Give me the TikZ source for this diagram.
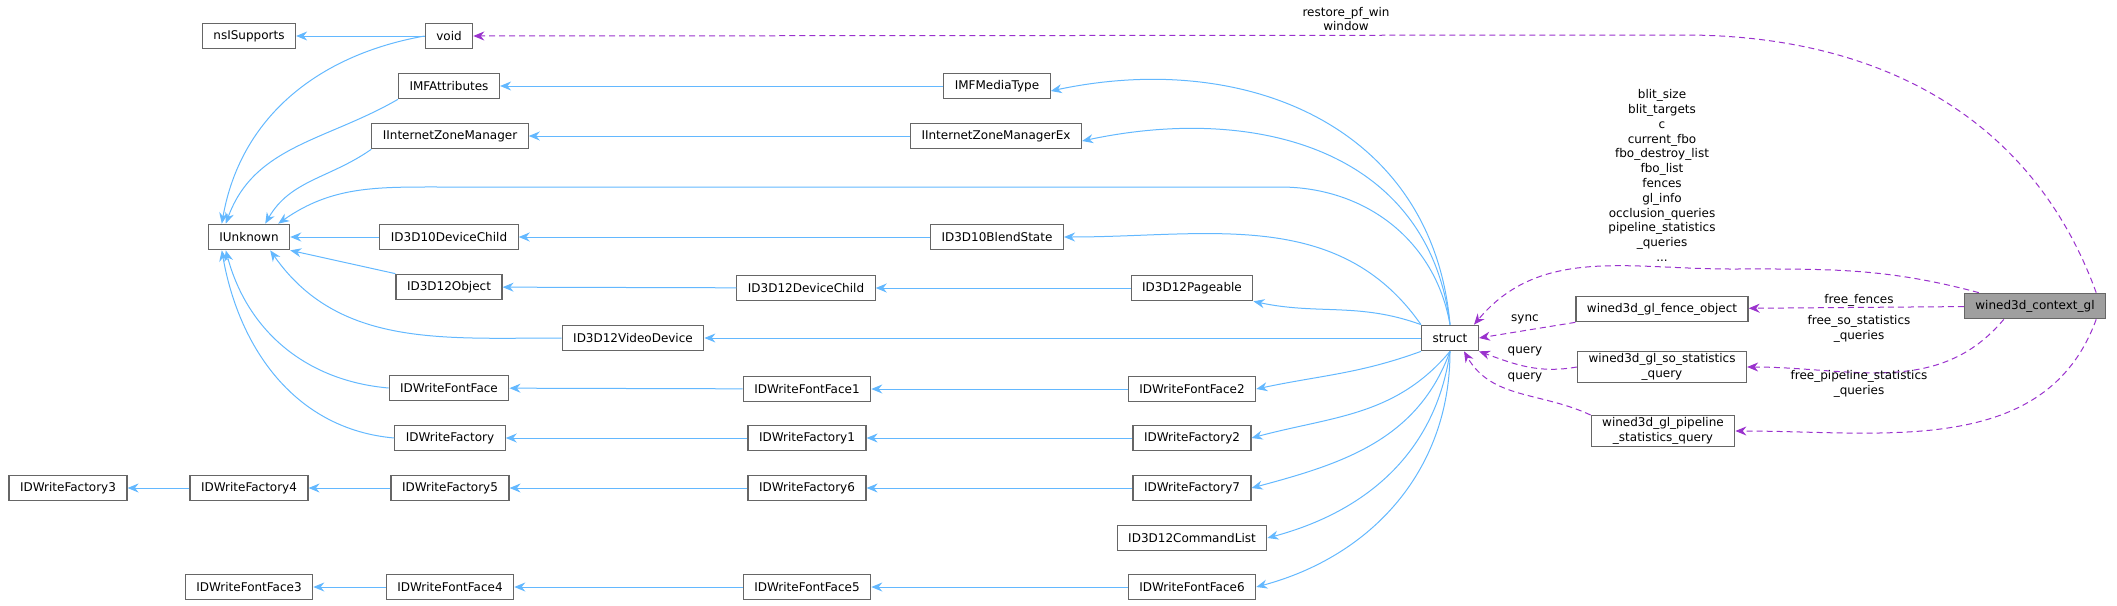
\documentclass[tikz,border=0pt]{standalone}
\usepackage{fontspec}
\setmainfont{DejaVu Sans}
\usetikzlibrary{arrows.meta}
\definecolor{edgeblue}{HTML}{63B8FF}
\definecolor{edgepurple}{HTML}{9A32CD}
\definecolor{boxgray}{HTML}{666666}
\tikzset{every picture/.style={line width=1pt}}
\tikzset{
  cls/.style={draw=boxgray,line width=1.2pt,fill=white,rectangle,minimum height=25.5,inner xsep=11,inner ysep=2,font=\fontsize{12}{14.8}\selectfont,align=center},
  inh/.style={draw=edgeblue,-{Stealth[length=11,width=9,open,fill=edgeblue]}},
  use/.style={draw=edgepurple,dashed,dash pattern=on 6 off 4,-{Stealth[length=11,width=9,fill=edgepurple]}},
  lbl/.style={font=\fontsize{12}{14.8}\selectfont,align=center,inner sep=1}
}
\begin{document}
\begin{tikzpicture}[x=1pt,y=-1pt]
	\useasboundingbox (0,0) rectangle (2117,605);
	
	% classes
	\node[cls] (nsISupports) at (249,36) {nsISupports};
	\node[cls] (void) at (449,36) {void};
	\node[cls] (IMFAttributes) at (449,86) {IMFAttributes};
	\node[cls] (IMFMediaType) at (997,86) {IMFMediaType};
	\node[cls] (IZoneMgr) at (450,136) {IInternetZoneManager};
	\node[cls] (IZoneMgrEx) at (996,136) {IInternetZoneManagerEx};
	\node[cls] (IUnknown) at (249,237) {IUnknown};
	\node[cls] (D3D10DevChild) at (449,237) {ID3D10DeviceChild};
	\node[cls] (D3D10Blend) at (997,237) {ID3D10BlendState};
	\node[cls] (D3D12Object) at (449,287) {ID3D12Object};
	\node[cls] (D3D12DevChild) at (806,288) {ID3D12DeviceChild};
	\node[cls] (D3D12Pageable) at (1192,288) {ID3D12Pageable};
	\node[cls] (D3D12Video) at (633,338) {ID3D12VideoDevice};
	\node[cls] (struct) at (1450,338) {struct};
	\node[cls] (FontFace) at (449,388) {IDWriteFontFace};
	\node[cls] (FontFace1) at (807,389) {IDWriteFontFace1};
	\node[cls] (FontFace2) at (1192,389) {IDWriteFontFace2};
	\node[cls] (Factory) at (450,438) {IDWriteFactory};
	\node[cls] (Factory1) at (807,438) {IDWriteFactory1};
	\node[cls] (Factory2) at (1192,438) {IDWriteFactory2};
	\node[cls] (Factory3) at (68,488) {IDWriteFactory3};
	\node[cls] (Factory4) at (249,488) {IDWriteFactory4};
	\node[cls] (Factory5) at (450,488) {IDWriteFactory5};
	\node[cls] (Factory6) at (807,488) {IDWriteFactory6};
	\node[cls] (Factory7) at (1192,488) {IDWriteFactory7};
	\node[cls] (CmdList) at (1192,538) {ID3D12CommandList};
	\node[cls] (FontFace3) at (249,587) {IDWriteFontFace3};
	\node[cls] (FontFace4) at (450,587) {IDWriteFontFace4};
	\node[cls] (FontFace5) at (807,587) {IDWriteFontFace5};
	\node[cls] (FontFace6) at (1192,587) {IDWriteFontFace6};
	\node[cls] (fence) at (1662,309) {wined3d\_gl\_fence\_object};
	\node[cls] (soquery) at (1662,367) {wined3d\_gl\_so\_statistics\\\_query};
	\node[cls] (plquery) at (1663,431) {wined3d\_gl\_pipeline\\\_statistics\_query};
	\node[cls,fill=gray!75] (context) at (2035,306) {wined3d\_context\_gl};
	
	% inheritance
	\draw[inh] (void) -- (nsISupports);
	\draw[inh] (void.west) to[out=190,in=80] ([xshift=14]IUnknown.north west);
	\draw[inh] (IMFAttributes.south west) to[out=210,in=70] ([xshift=18]IUnknown.north west);
	\draw[inh] (IZoneMgr.south west) to[out=215,in=60] ([xshift=-25]IUnknown.north east);
	\draw[inh] (struct.north) to[out=100,in=0] (1280,187) -- (443,187) to[out=180,in=35] ([xshift=-12]IUnknown.north east);
	\draw[inh] (D3D10DevChild) -- (IUnknown);
	\draw[inh] (D3D12Object.north west) -- (IUnknown.south east);
	\draw[inh] (D3D12Video.west) to[out=180,in=-55] ([xshift=-20]IUnknown.south east);
	\draw[inh] (FontFace.west) to[out=175,in=-75] ([xshift=18]IUnknown.south west);
	\draw[inh] (Factory.west) to[out=175,in=-80] ([xshift=14]IUnknown.south west);
	\draw[inh] (IMFMediaType) -- (IMFAttributes);
	\draw[inh] (IZoneMgrEx) -- (IZoneMgr);
	\draw[inh] (D3D10Blend) -- (D3D10DevChild);
	\draw[inh] (D3D12DevChild) -- (D3D12Object);
	\draw[inh] (D3D12Pageable) -- (D3D12DevChild);
	\draw[inh] (FontFace1) -- (FontFace);
	\draw[inh] (FontFace2) -- (FontFace1);
	\draw[inh] (Factory1) -- (Factory);
	\draw[inh] (Factory2) -- (Factory1);
	\draw[inh] (Factory4) -- (Factory3);
	\draw[inh] (Factory5) -- (Factory4);
	\draw[inh] (Factory6) -- (Factory5);
	\draw[inh] (Factory7) -- (Factory6);
	\draw[inh] (FontFace4) -- (FontFace3);
	\draw[inh] (FontFace5) -- (FontFace4);
	\draw[inh] (FontFace6) -- (FontFace5);
	\draw[inh] (struct.north) to[out=95,in=12,looseness=1.1] ([yshift=-5]IMFMediaType.east);
	\draw[inh] (struct.north) to[out=97,in=12,looseness=1.1] ([yshift=-5]IZoneMgrEx.east);
	\draw[inh] (struct.north west) to[out=125,in=0] (D3D10Blend.east);
	\draw[inh] (struct.north west) to[out=160,in=-12] (D3D12Pageable.south east);
	\draw[inh] (struct.west) -- (D3D12Video.east);
	\draw[inh] (struct.south west) to[out=-160,in=12] (FontFace2.east);
	\draw[inh] (struct.south) to[out=-130,in=15] (Factory2.east);
	\draw[inh] (struct.south) to[out=-110,in=15] (Factory7.east);
	\draw[inh] (struct.south) to[out=-98,in=15] (CmdList.east);
	\draw[inh] (struct.south) to[out=-90,in=15] (FontFace6.east);
	
	% usage
	\draw[use] ([xshift=-10]context.north east) to[out=110,in=0] (1684,35) -- (void.east);
	\draw[use] ([xshift=15]context.north west) to[out=165,in=0] (1730,269) to[out=180,in=50] ([xshift=-5]struct.north east);
	\draw[use] (context) -- (fence);
	\draw[use] ([xshift=40]context.south west) to[out=-130,in=0] (soquery.east);
	\draw[use] ([xshift=-10]context.south east) to[out=-110,in=0] (plquery.east);
	\draw[use] (fence.south west) -- (struct.east);
	\draw[use] (soquery.west) to[out=190,in=-20] (struct.south east);
	\draw[use] (plquery.north west) to[out=155,in=-60] ([xshift=-15]struct.south east);
	
	% labels
	\node[lbl] (lwin) at (1346,19) {restore\_pf\_win\\window};
	\node[lbl,anchor=north] (lfields) at (1662,88) {blit\_size\\blit\_targets\\c\\current\_fbo\\fbo\_destroy\_list\\fbo\_list\\fences\\gl\_info\\occlusion\_queries\\pipeline\_statistics\\\_queries\\...};
	\node[lbl] (lfences) at (1859,300) {free\_fences};
	\node[lbl] (lso) at (1859,329) {free\_so\_statistics\\\_queries};
	\node[lbl] (lpl) at (1859,384) {free\_pipeline\_statistics\\\_queries};
	\node[lbl] (lsync) at (1525,319) {sync};
	\node[lbl] (lq1) at (1525,351) {query};
	\node[lbl] (lq2) at (1525,377) {query};
\end{tikzpicture}
\end{document}
